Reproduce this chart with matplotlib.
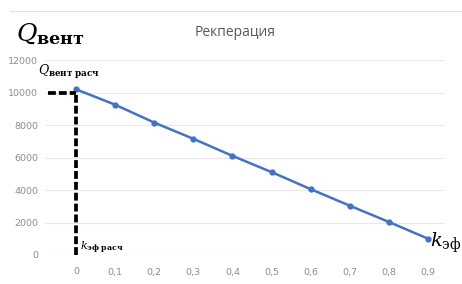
import matplotlib
matplotlib.use("Agg")
import matplotlib.pyplot as plt

# Данные
k_eff = [0, 0.1, 0.2, 0.3, 0.4, 0.5, 0.6, 0.7, 0.8, 0.9]
q_vent = [10200, 9250, 8150, 7150, 6100, 5100, 4050, 3030, 2030, 1000]
x_labels = ["0", "0,1", "0,2", "0,3", "0,4", "0,5", "0,6", "0,7", "0,8", "0,9"]
y_ticks = [0, 2000, 4000, 6000, 8000, 10000, 12000]

plt.rcParams["mathtext.fontset"] = "dejavuserif"

fig = plt.figure(figsize=(4.62, 2.84), dpi=100)
ax = fig.add_axes([45 / 462, 1 - 255 / 284, 400 / 462, 195 / 284])

# Основная линия
ax.plot(k_eff, q_vent, color="#4472C4", lw=1.8, marker="o", ms=3.5, zorder=3)

# Пунктир расчётной точки
ax.plot([k_eff[0], k_eff[0]], [0, q_vent[0] - 200], color="black", lw=2.7,
        dashes=(2.1, 0.8), zorder=4, clip_on=False)
ax.plot([-0.072, k_eff[0]], [q_vent[0] - 200, q_vent[0] - 200], color="black", lw=2.7,
        dashes=(2.1, 0.8), zorder=4, clip_on=False)

ax.set_xlim(-0.079, 0.943)
ax.set_ylim(0, 12000)
ax.set_xticks(k_eff)
ax.set_xticklabels(x_labels)
ax.set_yticks(y_ticks)
ax.tick_params(length=0, labelsize=6.8, labelcolor="#8c8c8c")
ax.tick_params(axis="x", pad=9)
ax.tick_params(axis="y", pad=5)
ax.grid(axis="y", color="#e8e8e8", lw=0.8)
for s in ax.spines.values():
    s.set_visible(False)

# Подписи
fig.text(235 / 462, 1 - 32 / 284, "Рекперация", ha="center", va="center",
         fontsize=10, color="#595959", family="Open Sans")
fig.text(16 / 462, 1 - 34 / 284, r"$Q_{\mathbf{вент}}$", ha="left", va="center",
         fontsize=18, color="black")
fig.text(38 / 462, 1 - 72 / 284, r"$Q_{\mathbf{вент\ расч}}$", ha="left", va="center",
         fontsize=9, color="black")
fig.text(80 / 462, 1 - 248 / 284, r"$k_{\mathbf{эф\ расч}}$", ha="left", va="center",
         fontsize=8, color="black")
fig.text(430 / 462, 1 - 243 / 284, r"$k_{\mathrm{эф}}$", ha="left", va="center",
         fontsize=14, color="black")

fig.add_artist(plt.Line2D([10 / 462, 1], [1 - 11 / 284, 1 - 11 / 284],
                          color="#e0e0e0", lw=0.8))

fig.savefig("out.png", dpi=100, facecolor="white")
